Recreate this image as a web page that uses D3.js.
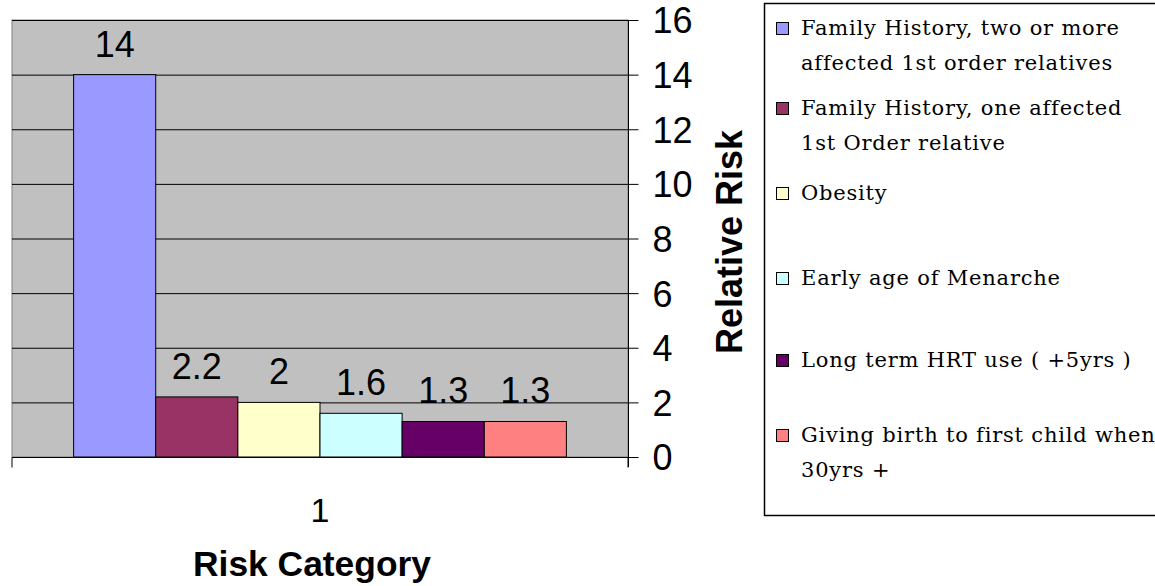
<!DOCTYPE html>
<html>
<head>
	<meta charset="UTF-8">
	<title>Relative Risk</title>
	<style>
		body { margin: 0; background: #fff; }
		svg { display: block; }
	</style>
</head>
<body>
	<div id="chart"></div>
	<script src="https://d3js.org/d3.v7.min.js"></script>
	<script>
		// data
		var categories = ["1"];
		var seriesNames = [
			["Family History, two or more", "affected 1st order relatives"],
			["Family History, one affected", "1st Order relative"],
			["Obesity"],
			["Early age of Menarche"],
			["Long term HRT use ( +5yrs )"],
			["Giving birth to first child when", "30yrs +"]
		];
		var seriesValues = [14, 2.2, 2, 1.6, 1.3, 1.3];
		var valueLabels = ["14", "2.2", "2", "1.6", "1.3", "1.3"];
		var yTicks = [0, 2, 4, 6, 8, 10, 12, 14, 16];

		var colors = ["#9999FF", "#993366", "#FFFFCC", "#CCFFFF", "#660066", "#FF8080"];

		var width = 1155,
			height = 586;
		var plot = { left: 12, right: 628, top: 20, bottom: 457 };

		var svg = d3.select("#chart")
			.append("svg")
			.attr("width", width)
			.attr("height", height);

		var sans = "Arial, 'Liberation Sans', sans-serif";

		// scales
		var x0 = d3.scaleBand()
			.domain(categories)
			.range([plot.left, plot.right]);

		// gap width 150%: 6 bars + 1.5 bar of gap
		var barW = x0.bandwidth() / 7.5;
		var x1 = d3.scaleBand()
			.domain(d3.range(seriesValues.length))
			.range([barW * 0.75, x0.bandwidth() - barW * 0.75]);

		var y = d3.scaleLinear()
			.domain([0, 16])
			.range([plot.bottom, plot.top]);

		// plot area
		svg.append("rect")
			.attr("x", plot.left)
			.attr("y", plot.top)
			.attr("width", plot.right - plot.left)
			.attr("height", plot.bottom - plot.top)
			.attr("fill", "#C0C0C0")
			.attr("stroke", "#808080");

		// gridlines
		svg.append("g")
			.selectAll("line")
			.data(yTicks.filter(function(d) { return d > 0; }))
			.join("line")
			.attr("x1", plot.left)
			.attr("x2", plot.right)
			.attr("y1", function(d) { return y(d) + 0.5; })
			.attr("y2", function(d) { return y(d) + 0.5; })
			.attr("stroke", "#000")
			.attr("stroke-width", 1);

		// bars
		var group = svg.append("g")
			.attr("transform", "translate(" + x0(categories[0]) + ",0)");

		group.selectAll("rect")
			.data(seriesValues)
			.join("rect")
			.attr("x", function(d, i) { return x1(i); })
			.attr("y", function(d) { return y(d); })
			.attr("width", x1.bandwidth())
			.attr("height", function(d) { return y(0) - y(d); })
			.attr("fill", function(d, i) { return colors[i]; })
			.attr("stroke", "#000")
			.attr("stroke-width", 1);

		group.selectAll("text")
			.data(seriesValues)
			.join("text")
			.attr("x", function(d, i) { return x1(i) + x1.bandwidth() / 2; })
			.attr("y", function(d) { return y(d) - 18; })
			.attr("text-anchor", "middle")
			.attr("font-family", sans)
			.attr("font-size", "36px")
			.text(function(d, i) { return valueLabels[i]; });

		// x axis (bottom)
		var xAxis = d3.axisBottom(x0)
			.tickSize(0)
			.tickPadding(40);

		var gx = svg.append("g")
			.attr("transform", "translate(0," + (plot.bottom + 0.5) + ")")
			.call(xAxis);
		gx.select(".domain")
			.attr("d", "M" + plot.left + ",10V0H" + plot.right + "V10")
			.attr("stroke", "#000");
		gx.selectAll("text")
			.attr("font-family", sans)
			.attr("font-size", "34px")
			.attr("fill", "#000")
			.attr("dy", "0")
			.attr("y", 64);

		// y axis (right)
		var yAxis = d3.axisRight(y)
			.tickValues(yTicks)
			.tickSize(10)
			.tickPadding(14)
			.tickSizeOuter(0);

		var gy = svg.append("g")
			.attr("transform", "translate(" + (plot.right + 0.5) + ",0)")
			.call(yAxis);
		gy.select(".domain")
			.attr("d", "M0," + plot.top + "V" + (plot.bottom + 10))
			.attr("stroke", "#000");
		gy.selectAll(".tick line").attr("stroke", "#000");
		gy.selectAll("text")
			.attr("font-family", sans)
			.attr("font-size", "36px")
			.attr("fill", "#000")
			.attr("dy", "0.36em");

		// axis titles
		svg.append("text")
			.attr("transform", "translate(742,242) rotate(-90)")
			.attr("text-anchor", "middle")
			.attr("font-family", sans)
			.attr("font-weight", "bold")
			.attr("font-size", "36px")
			.text("Relative Risk");

		svg.append("text")
			.attr("x", 312)
			.attr("y", 576)
			.attr("text-anchor", "middle")
			.attr("font-family", sans)
			.attr("font-weight", "bold")
			.attr("font-size", "35px")
			.attr("textLength", 238)
			.attr("lengthAdjust", "spacingAndGlyphs")
			.text("Risk Category");

		// legend
		var legendBaselines = [35, 115, 200, 285, 367, 442];

		svg.append("rect")
			.attr("x", 764.5)
			.attr("y", 3.5)
			.attr("width", 400)
			.attr("height", 512)
			.attr("fill", "#fff")
			.attr("stroke", "#000")
			.attr("stroke-width", 1.5);

		var item = svg.append("g")
			.selectAll("g")
			.data(seriesNames)
			.join("g")
			.attr("transform", function(d, i) { return "translate(0," + legendBaselines[i] + ")"; });

		item.append("rect")
			.attr("x", 776.5)
			.attr("y", -12.5)
			.attr("width", 12)
			.attr("height", 12)
			.attr("fill", function(d, i) { return colors[i]; })
			.attr("stroke", "#000");

		item.append("text")
			.attr("font-family", "'DejaVu Serif', serif")
			.attr("font-size", "21px")
			.attr("letter-spacing", "0.8px")
			.selectAll("tspan")
			.data(function(d) { return d; })
			.join("tspan")
			.attr("x", 801)
			.attr("y", function(d, j) { return j * 35; })
			.text(function(d) { return d; });
	</script>
</body>
</html>
